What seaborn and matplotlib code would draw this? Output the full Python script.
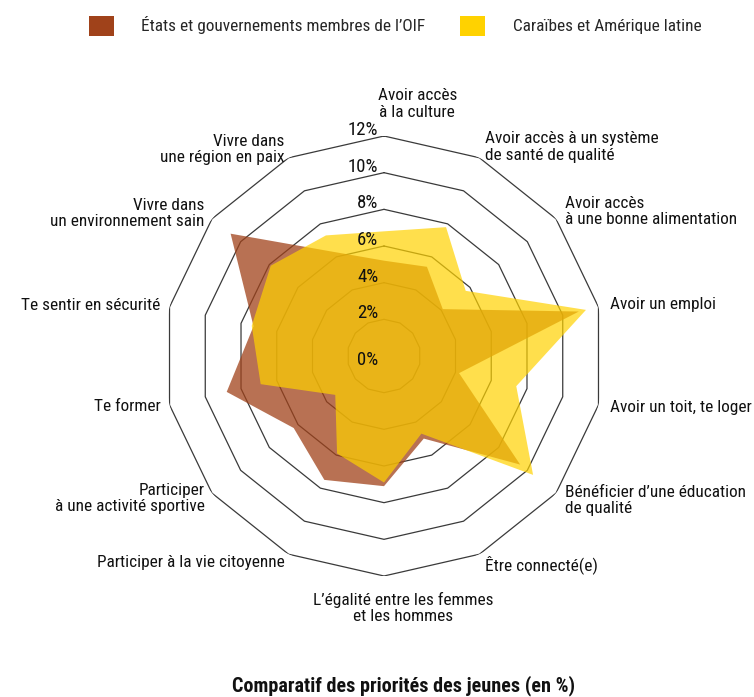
import matplotlib
matplotlib.use("Agg")

import matplotlib.pyplot as plt
import numpy as np
import seaborn as sns
from matplotlib import font_manager
from matplotlib.patches import Patch

categories = [
    "Avoir accès\nà la culture",
    "Avoir accès à un système\nde santé de qualité",
    "Avoir accès\nà une bonne alimentation",
    "Avoir un emploi",
    "Avoir un toit, te loger",
    "Bénéficier d’une éducation\nde qualité",
    "Être connecté(e)",
    "L’égalité entre les femmes\net les hommes",
    "Participer à la vie citoyenne",
    "Participer\nà une activité sportive",
    "Te former",
    "Te sentir en sécurité",
    "Vivre dans\nun environnement sain",
    "Vivre dans\nune région en paix",
]

oif = [5.2, 5.4, 4.1, 10.9, 4.2, 9.5, 5.0, 7.1, 7.5, 6.3, 8.8, 7.3, 10.7, 6.3]
caraibes = [6.8, 7.8, 5.7, 11.3, 7.4, 10.4, 4.7, 6.9, 5.9, 3.4, 6.9, 7.4, 7.9, 7.3]

series_names = ["États et gouvernements membres de l’OIF", "Caraïbes et Amérique latine"]
series_colors = ["#A0421A", "#FFD200"]

ticks = [0, 2, 4, 6, 8, 10, 12]
tick_labels = ["0%", "2%", "4%", "6%", "8%", "10%", "12%"]

title = "Comparatif des priorités des jeunes (en %)"

sns.set_theme(style="white")
installed = {f.name for f in font_manager.fontManager.ttflist}
wanted = ["Roboto Condensed", "Liberation Sans Narrow", "DejaVu Sans Condensed",
          "Liberation Sans", "DejaVu Sans"]
plt.rcParams["font.family"] = [f for f in wanted if f in installed]

W, H = 754, 697
fig = plt.figure(figsize=(W / 100, H / 100), dpi=100)

# radar centre at (384, 356) px, 12% ring radius 220 px
cx, cy, rad = 384, 356, 220
ax = fig.add_axes(
    [(cx - rad) / W, (H - cy - rad) / H, 2 * rad / W, 2 * rad / H],
    projection="polar",
)
ax.set_theta_offset(np.pi / 2)
ax.set_theta_direction(-1)
ax.set_ylim(0, 12)
ax.axis("off")

n = len(categories)
angles = np.linspace(0, 2 * np.pi, n, endpoint=False)
closed = np.append(angles, angles[0])

# polygon rings
for t in ticks[1:]:
    ax.plot(closed, [t] * (n + 1), color="#3a3a3a", lw=0.9, zorder=1)

# series
for values, color, alpha in zip([oif, caraibes], series_colors, [0.75, 0.7]):
    ax.fill(closed, values + values[:1], color=color, alpha=alpha, lw=0, zorder=2)

fs = 12.4

# radial tick labels
for t, lab in zip(ticks, tick_labels):
    dy = 4.3 if t > 0 else -3
    ax.annotate(
        lab, xy=(0, t), xytext=(-4, dy), textcoords="offset points",
        ha="right", va="center", fontsize=13.5, color="#111111", zorder=5,
    )

# category labels
nudges = {0: (24, 23), 7: (14, -23)}
for i, (ang, lab) in enumerate(zip(angles, categories)):
    s = np.sin(ang)
    if i in nudges:
        ax.annotate(
            lab, xy=(ang, 12), xytext=nudges[i], textcoords="offset points",
            ha="center", va="center", fontsize=fs, color="#111111",
            linespacing=1.1,
        )
        continue
    ha = "left" if s > 0 else "right"
    r = 12.65 if s > 0 else 12.5
    ax.text(ang, r, lab, ha=ha, va="center", fontsize=fs, color="#111111",
            linespacing=1.1)

handles = [Patch(facecolor=c, edgecolor="none") for c in series_colors]
fig.legend(
    handles, series_names,
    loc="center", bbox_to_anchor=(0.524, 0.963), ncol=2, frameon=False,
    fontsize=fs, handlelength=1.45, handleheight=1.45,
    handletextpad=1.6, columnspacing=2.0,
)

fig.text(0.535, 1 - 686 / H, title, ha="center", va="center",
         fontsize=14.5, fontweight="bold", color="#111111")

fig.savefig("out.png", dpi=100)
plt.close(fig)
